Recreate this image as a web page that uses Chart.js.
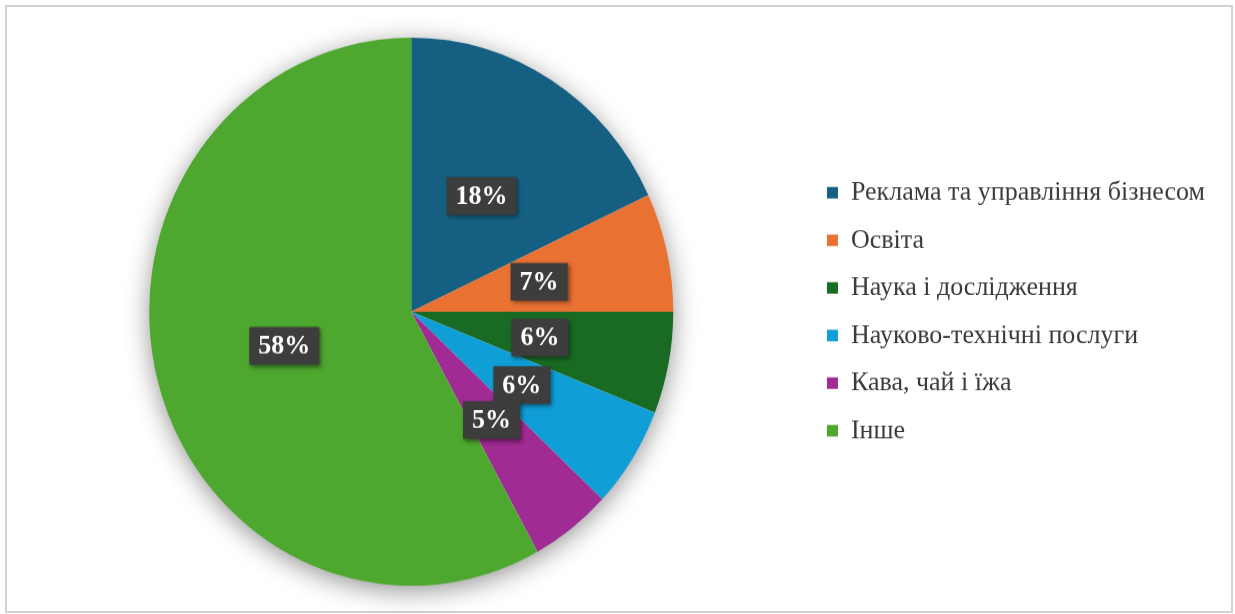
<!DOCTYPE html>
<html lang="uk">
<head>
<meta charset="utf-8">
<title>Структура за галузями</title>
<script src="https://cdn.jsdelivr.net/npm/chart.js@4.4.1/dist/chart.umd.min.js"></script>
<style>
  html, body { margin: 0; padding: 0; background: #ffffff; }
  body { width: 1235px; height: 614px; position: relative; overflow: hidden; }
  #frame {
    position: absolute; left: 5px; top: 5px; width: 1224px; height: 604px;
    border: 2px solid #d2d2d2; pointer-events: none;
  }
  #wrap {
    position: absolute; left: 0; top: 0; width: 1235px; height: 587px;
    transform: scaleY(1.046); transform-origin: 0 0;
  }
</style>
</head>
<body>
<div id="frame"></div>
<div id="wrap"><canvas id="chart"></canvas></div>
<script>
// Sectors, clockwise from 12 o'clock
const categories = [
  'Реклама та управління бізнесом',
  'Освіта',
  'Наука і дослідження',
  'Науково-технічні послуги',
  'Кава, чай і їжа',
  'Інше'
];
const shares = [18, 7, 6, 6, 5, 58];
const sliceColors = ['#156082', '#E97132', '#196B24', '#0F9ED5', '#A02B93', '#4EA72E'];

// Soft drop shadow behind the whole disc
const discShadow = {
  id: 'discShadow',
  beforeDatasetsDraw(chart) {
    const arc = chart.getDatasetMeta(0).data[0];
    if (!arc) return;
    const { x, y, outerRadius } = arc.getProps(['x', 'y', 'outerRadius'], true);
    const ctx = chart.ctx;
    ctx.save();
    ctx.shadowColor = 'rgba(0,0,0,0.45)';
    ctx.shadowBlur = 26;
    ctx.shadowOffsetX = 0;
    ctx.shadowOffsetY = 5;
    ctx.fillStyle = '#ffffff';
    ctx.beginPath();
    ctx.arc(x, y, outerRadius - 1, 0, Math.PI * 2);
    ctx.fill();
    ctx.restore();
  }
};

// Percentage tags in dark boxes at the middle of each sector
const valueTags = {
  id: 'valueTags',
  afterDatasetsDraw(chart) {
    const ctx = chart.ctx;
    const values = chart.data.datasets[0].data;
    ctx.save();
    ctx.font = 'bold 26px "Liberation Serif", "Times New Roman", serif';
    ctx.textAlign = 'center';
    ctx.textBaseline = 'middle';
    chart.getDatasetMeta(0).data.forEach((arc, i) => {
      const p = arc.tooltipPosition();
      const text = values[i] + '%';
      const w = ctx.measureText(text).width + 18;
      const h = 36;
      ctx.save();
      ctx.shadowColor = 'rgba(0,0,0,0.45)';
      ctx.shadowBlur = 4;
      ctx.shadowOffsetX = 2;
      ctx.shadowOffsetY = 2;
      ctx.fillStyle = '#3d3d3d';
      ctx.fillRect(p.x - w / 2, p.y - h / 2, w, h);
      ctx.restore();
      ctx.fillStyle = '#ffffff';
      ctx.fillText(text, p.x, p.y + 1);
    });
    ctx.restore();
  }
};

new Chart(document.getElementById('chart'), {
  type: 'pie',
  data: {
    labels: categories,
    datasets: [{
      data: shares,
      backgroundColor: sliceColors,
      borderWidth: 0
    }]
  },
  options: {
    responsive: true,
    maintainAspectRatio: false,
    animation: false,
    layout: { padding: { left: 15, right: 20, top: 36, bottom: 27 } },
    plugins: {
      tooltip: { enabled: false },
      legend: {
        position: 'right',
        align: 'center',
        labels: {
          boxWidth: 11,
          boxHeight: 11,
          padding: 19.5,
          color: '#3a3a3a',
          font: { family: '"Liberation Serif", "Times New Roman", serif', size: 26 }
        }
      }
    }
  },
  plugins: [discShadow, valueTags]
});
</script>
</body>
</html>
